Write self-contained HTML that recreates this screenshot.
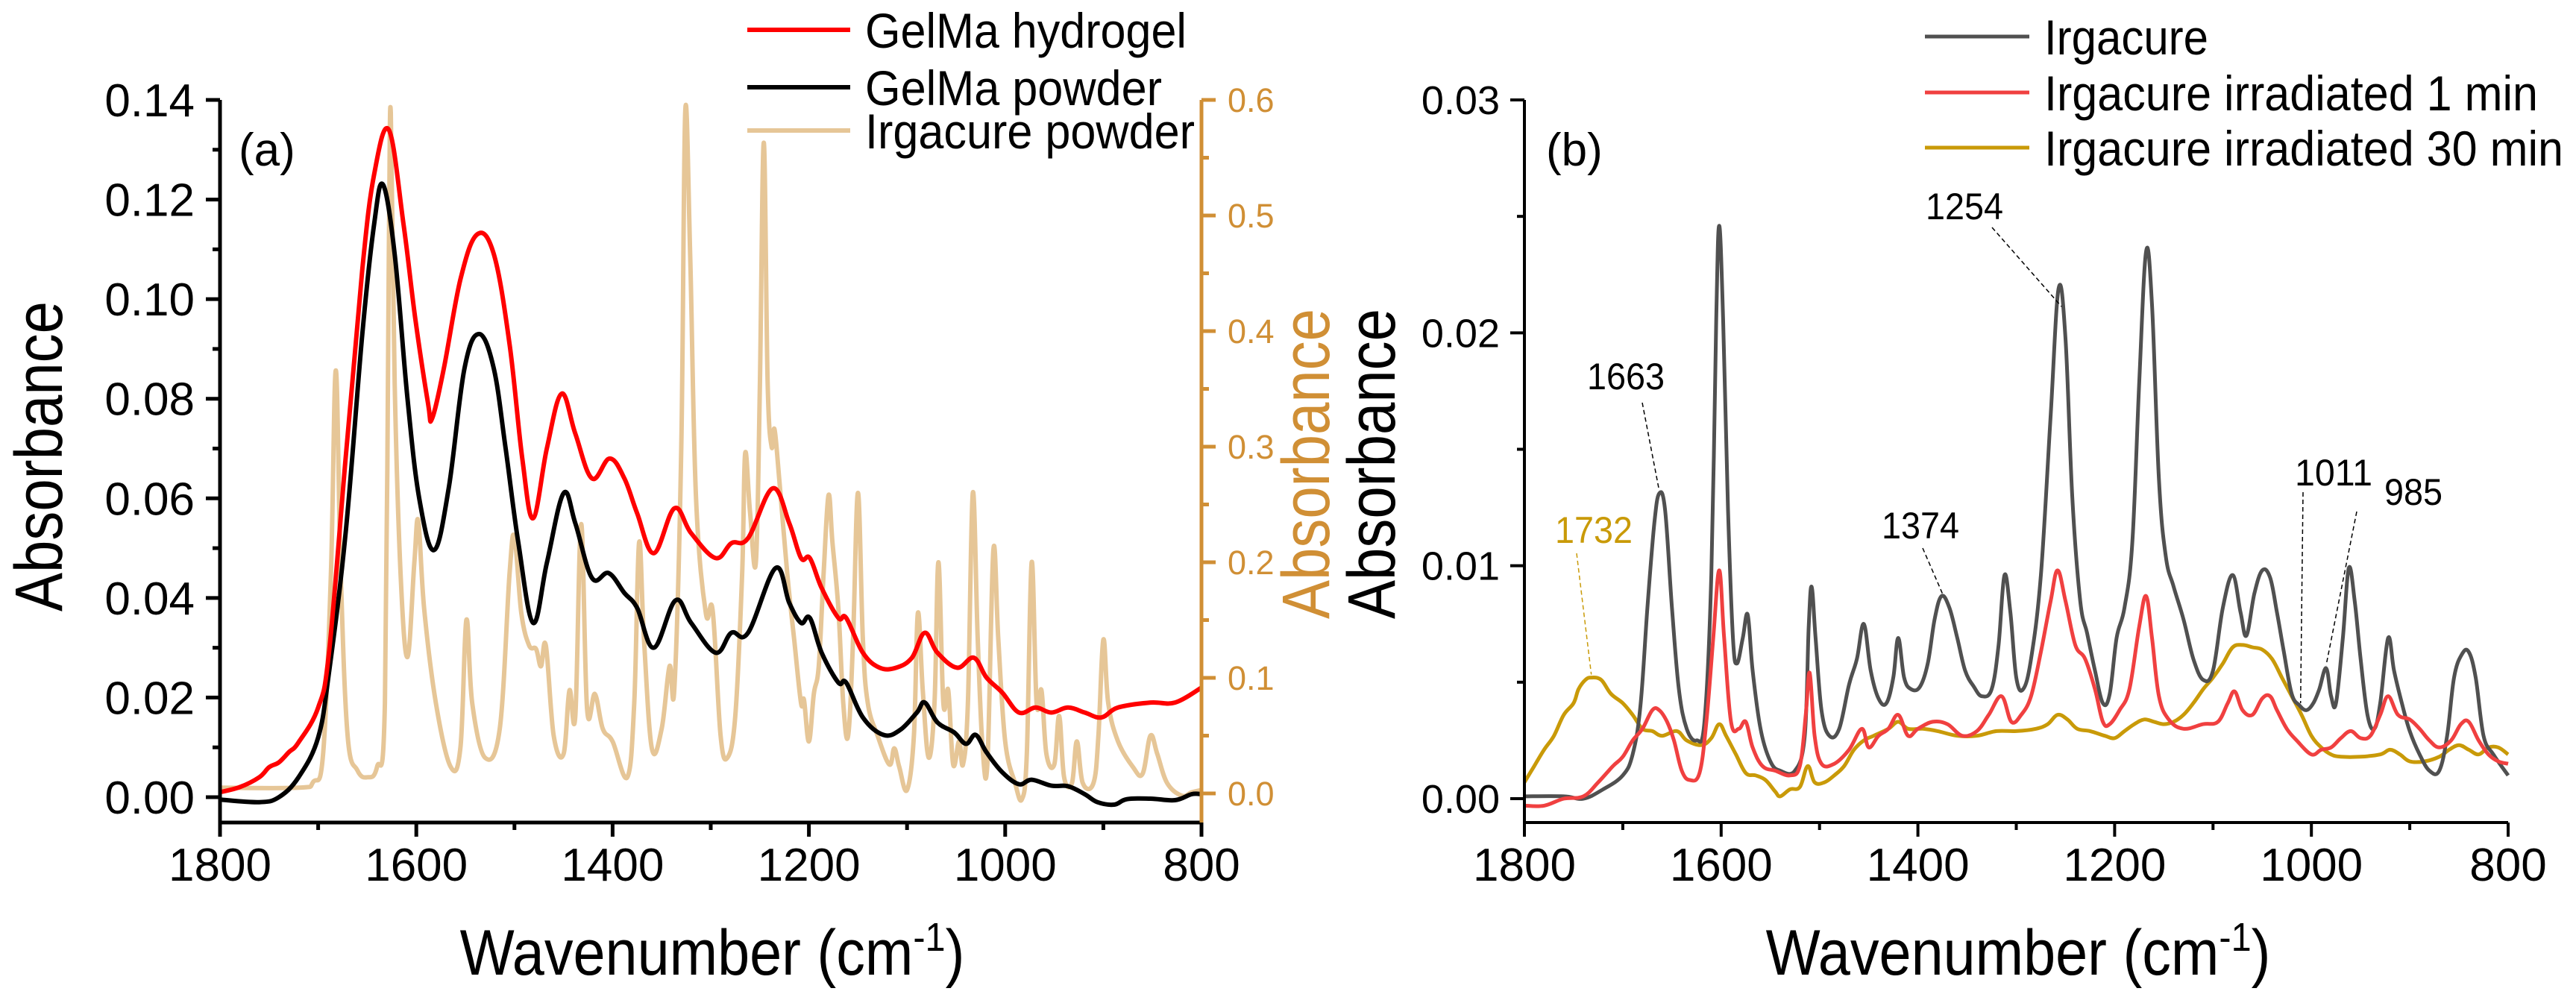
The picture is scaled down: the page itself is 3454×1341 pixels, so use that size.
<!DOCTYPE html>
<html><head><meta charset="utf-8"><style>
html,body{margin:0;padding:0;background:#fff}
svg{display:block}
text{font-family:"Liberation Sans",Arial,sans-serif}
</style></head><body>
<svg id="fig" width="3454" height="1341" viewBox="0 0 3454 1341" xmlns="http://www.w3.org/2000/svg">
<g id="ga"></g>
<g id="gb"></g>
</svg>
<script>
// ---- Panel (a) data ----
const hydWn=[1800,1780,1760,1750,1740,1730,1720,1700,1689,1672,1655,1643,1628,1613,1601,1588,1584,1572,1555,1538,1521,1505,1492,1481,1467,1452,1438,1421,1403,1388,1375,1358,1337,1320,1295,1279,1262,1237,1220,1208,1199,1187,1170,1162,1145,1128,1111,1095,1082,1069,1049,1032,1019,1003,986,969,953,936,919,902,885,852,827,800];
const hydVal=[0.001,0.002,0.004,0.006,0.007,0.009,0.011,0.018,0.029,0.068,0.106,0.125,0.134,0.115,0.096,0.079,0.076,0.086,0.104,0.113,0.109,0.091,0.068,0.056,0.070,0.081,0.073,0.064,0.068,0.064,0.057,0.049,0.058,0.053,0.048,0.051,0.052,0.062,0.055,0.048,0.048,0.042,0.036,0.036,0.029,0.026,0.026,0.028,0.033,0.029,0.026,0.028,0.024,0.021,0.017,0.018,0.017,0.018,0.017,0.016,0.018,0.019,0.019,0.022];
const powWn=[1800,1760,1740,1720,1700,1689,1672,1655,1643,1634,1622,1609,1597,1582,1567,1551,1536,1521,1509,1496,1481,1467,1450,1438,1421,1404,1388,1375,1358,1336,1320,1295,1279,1262,1234,1220,1208,1199,1187,1170,1162,1145,1124,1107,1090,1082,1069,1052,1040,1030,1019,1003,986,973,953,936,919,906,889,876,852,827,810,800];
const powVal=[-0.0005,-0.001,0,0.004,0.012,0.025,0.053,0.093,0.115,0.123,0.109,0.080,0.060,0.0496,0.062,0.086,0.093,0.086,0.070,0.051,0.035,0.047,0.061,0.055,0.044,0.045,0.041,0.038,0.030,0.0395,0.035,0.029,0.033,0.033,0.046,0.039,0.035,0.036,0.029,0.023,0.023,0.016,0.0125,0.0135,0.017,0.019,0.015,0.013,0.0107,0.0125,0.009,0.005,0.0026,0.0035,0.0023,0.0022,0.0006,-0.001,-0.0015,-0.0004,-0.0003,-0.0006,0.0006,0.0006];
const irgWn=[1800,1720,1705,1695,1687,1682,1677,1670,1660,1650,1640,1632,1628,1626,1622,1616,1609,1602,1598,1592,1580,1565,1555,1549,1543,1530,1515,1505,1500,1493,1485,1478,1473,1468,1460,1450,1444,1438,1432,1426,1418,1410,1400,1385,1378,1373,1368,1360,1350,1342,1337,1330,1326,1321,1315,1305,1298,1290,1283,1275,1268,1265,1260,1254,1250,1246,1242,1238,1235,1230,1222,1215,1208,1205,1200,1195,1190,1185,1180,1176,1170,1165,1160,1155,1150,1145,1140,1130,1118,1113,1108,1100,1093,1089,1084,1078,1072,1068,1063,1058,1053,1047,1043,1038,1033,1028,1023,1018,1012,1007,1000,990,983,978,973,968,963,958,950,945,940,932,927,921,910,905,900,895,885,870,860,852,845,835,820,810,800];
const irgVal=[0.005,0.005,0.01,0.034,0.19,0.366,0.19,0.05,0.02,0.014,0.023,0.078,0.47,0.589,0.355,0.19,0.118,0.2,0.236,0.16,0.078,0.023,0.04,0.15,0.078,0.031,0.056,0.19,0.222,0.156,0.128,0.125,0.11,0.128,0.05,0.034,0.089,0.067,0.233,0.073,0.086,0.056,0.045,0.014,0.078,0.217,0.133,0.039,0.056,0.11,0.092,0.3,0.59,0.466,0.255,0.156,0.158,0.05,0.031,0.067,0.19,0.294,0.244,0.2,0.35,0.563,0.355,0.3,0.315,0.27,0.19,0.133,0.078,0.081,0.045,0.086,0.11,0.19,0.258,0.217,0.16,0.078,0.05,0.133,0.26,0.133,0.078,0.05,0.025,0.039,0.023,0.003,0.05,0.156,0.089,0.031,0.078,0.2,0.078,0.089,0.025,0.045,0.025,0.078,0.26,0.133,0.039,0.028,0.211,0.133,0.045,0.009,-0.005,0.034,0.2,0.078,0.089,0.034,0.025,0.067,0.014,0.009,0.045,0.009,0.009,0.05,0.133,0.078,0.045,0.023,0.017,0.05,0.034,0.009,-0.002,0.001,0.003];
const aXTicks=[1800,1600,1400,1200,1000,800];
const aYTicks=[0,0.02,0.04,0.06,0.08,0.10,0.12,0.14];
const aYLabels=["0.00","0.02","0.04","0.06","0.08","0.10","0.12","0.14"];
const aRTicks=[0,0.1,0.2,0.3,0.4,0.5,0.6];
const aRLabels=["0.0","0.1","0.2","0.3","0.4","0.5","0.6"];
// ---- Panel (b) data ----
const grayWn=[1800,1760,1740,1720,1700,1690,1682,1675,1668,1663,1657,1650,1643,1635,1625,1617,1610,1605,1602,1598,1593,1588,1584,1578,1573,1568,1560,1550,1540,1525,1515,1511,1508,1504,1498,1490,1480,1470,1462,1455,1448,1440,1432,1425,1420,1414,1407,1398,1390,1383,1376,1368,1360,1352,1343,1335,1325,1318,1312,1306,1300,1293,1285,1275,1265,1257,1250,1243,1235,1228,1220,1212,1205,1198,1190,1182,1175,1168,1162,1155,1148,1140,1130,1120,1110,1100,1090,1080,1072,1066,1058,1050,1042,1035,1028,1020,1012,1005,998,992,985,980,975,968,962,956,950,943,936,930,922,916,908,900,890,880,870,862,855,847,840,833,825,815,800];
const grayVal=[0.0001,0.0001,0.0,0.0004,0.001,0.0019,0.004,0.0082,0.0118,0.0131,0.0124,0.0082,0.0047,0.003,0.0025,0.0033,0.0096,0.0206,0.0246,0.0206,0.0124,0.0069,0.0058,0.0069,0.0079,0.0055,0.003,0.0016,0.0012,0.0012,0.0027,0.0074,0.0091,0.0069,0.0038,0.0027,0.003,0.0049,0.006,0.0075,0.0055,0.0043,0.0041,0.0052,0.0069,0.0052,0.0047,0.0048,0.0058,0.0077,0.0087,0.0082,0.0069,0.0055,0.0048,0.0044,0.0047,0.0066,0.0096,0.008,0.0052,0.0047,0.006,0.0096,0.0165,0.0219,0.0198,0.0129,0.0085,0.0071,0.0055,0.0041,0.0045,0.0069,0.0082,0.011,0.0179,0.0235,0.0212,0.0137,0.0104,0.0091,0.0077,0.006,0.0051,0.0055,0.0082,0.0096,0.008,0.007,0.0088,0.0098,0.0095,0.008,0.0063,0.0045,0.004,0.0038,0.0041,0.0047,0.0056,0.0044,0.0041,0.0069,0.0099,0.0085,0.006,0.0036,0.003,0.0041,0.0069,0.0055,0.0041,0.0029,0.0019,0.0012,0.0012,0.0027,0.0052,0.0062,0.0063,0.0052,0.0027,0.0019,0.001];
const redWn=[1800,1780,1760,1740,1725,1710,1700,1690,1680,1670,1663,1655,1648,1640,1632,1622,1615,1608,1602,1597,1590,1582,1575,1568,1558,1545,1530,1520,1514,1510,1505,1498,1485,1470,1457,1450,1440,1430,1420,1410,1400,1385,1370,1355,1340,1328,1315,1305,1295,1285,1275,1265,1258,1250,1240,1230,1220,1212,1205,1195,1185,1175,1168,1162,1155,1145,1130,1110,1095,1085,1078,1070,1060,1050,1042,1035,1025,1015,1000,990,980,970,960,950,940,930,922,912,900,890,880,870,858,848,840,830,820,810,800];
const redVal=[-0.0003,-0.0003,0,0.0001,0.0007,0.0014,0.0018,0.0025,0.003,0.0038,0.0038,0.0033,0.0025,0.0012,0.0008,0.0011,0.0033,0.0069,0.0098,0.0069,0.0033,0.003,0.0033,0.0022,0.0014,0.0012,0.001,0.0014,0.0036,0.0054,0.0027,0.0015,0.0015,0.0021,0.003,0.0022,0.0027,0.003,0.0036,0.0027,0.003,0.0033,0.0032,0.0027,0.0029,0.0036,0.0044,0.0033,0.0036,0.0044,0.0063,0.0085,0.0098,0.0085,0.0066,0.006,0.0047,0.0033,0.0032,0.0038,0.0047,0.0074,0.0087,0.0069,0.0044,0.0034,0.003,0.0032,0.0033,0.0041,0.0046,0.0038,0.0036,0.0043,0.0044,0.0038,0.003,0.0025,0.0019,0.0021,0.0022,0.0026,0.0029,0.0026,0.0027,0.0036,0.0044,0.0036,0.0034,0.003,0.0025,0.0022,0.0025,0.0032,0.0033,0.0025,0.0019,0.0016,0.0015];
const goldWn=[1800,1790,1780,1770,1760,1750,1745,1738,1732,1722,1712,1700,1690,1680,1670,1660,1645,1635,1620,1610,1602,1595,1585,1575,1565,1555,1545,1540,1530,1520,1512,1505,1495,1485,1475,1465,1455,1445,1430,1420,1410,1395,1380,1360,1340,1320,1300,1280,1268,1258,1248,1238,1225,1210,1200,1190,1180,1170,1160,1150,1140,1130,1120,1110,1100,1090,1080,1070,1060,1050,1040,1030,1020,1010,1000,990,980,970,950,930,920,910,900,885,870,860,850,840,830,820,810,800];
const goldVal=[0.0007,0.0014,0.0021,0.0027,0.0036,0.0041,0.0047,0.0051,0.0052,0.0051,0.0045,0.0041,0.0036,0.003,0.0029,0.0027,0.0029,0.0025,0.0023,0.0026,0.0032,0.0027,0.0019,0.0011,0.001,0.0008,0.0003,0.0001,0.0004,0.0005,0.0014,0.0007,0.0007,0.001,0.0014,0.0021,0.0025,0.0027,0.003,0.0033,0.003,0.003,0.0029,0.0027,0.0027,0.0029,0.0029,0.003,0.0032,0.0036,0.0034,0.003,0.0029,0.0027,0.0026,0.0029,0.0032,0.0034,0.0033,0.0032,0.0033,0.0036,0.0041,0.0047,0.0052,0.0058,0.0065,0.0066,0.0065,0.0064,0.006,0.0052,0.0044,0.0036,0.0027,0.0022,0.0019,0.0018,0.0018,0.0019,0.0021,0.0019,0.0016,0.0016,0.0018,0.0021,0.0023,0.0021,0.0019,0.0022,0.0022,0.0019];
const bXTicks=[1800,1600,1400,1200,1000,800];
const bYTicks=[0,0.01,0.02,0.03];
const bYLabels=["0.00","0.01","0.02","0.03"];
const annWn=[1663,1254,1374,1011,985,1732];
const annLabels=["1663","1254","1374","1011","985","1732"];

const NS="http://www.w3.org/2000/svg";
function mk(parent,tag,attrs,txt){const e=document.createElementNS(NS,tag);for(const k in attrs)e.setAttribute(k,attrs[k]);if(txt!==undefined)e.textContent=txt;parent.appendChild(e);return e;}
function pathFrom(xs,ys){
  let d="M"+xs[0].toFixed(1)+","+ys[0].toFixed(1);
  for(let i=0;i<xs.length-1;i++){
    const x0=xs[Math.max(i-1,0)],y0=ys[Math.max(i-1,0)],x1=xs[i],y1=ys[i],x2=xs[i+1],y2=ys[i+1],x3=xs[Math.min(i+2,xs.length-1)],y3=ys[Math.min(i+2,xs.length-1)];
    const t=0.18;
    d+=" C"+(x1+(x2-x0)*t).toFixed(1)+","+(y1+(y2-y0)*t).toFixed(1)+" "+(x2-(x3-x1)*t).toFixed(1)+","+(y2-(y3-y1)*t).toFixed(1)+" "+x2.toFixed(1)+","+y2.toFixed(1);
  }
  return d;
}
const ga=document.getElementById('ga'), gb=document.getElementById('gb');
const axA=wn=>295+(1800-wn)*(1611-295)/1000;
const ayA=v=>1069-v*(1069-134)/0.14;
const ayR=v=>1064-v*(1064-134)/0.6;
const axB=wn=>2044+(1800-wn)*(3363-2044)/1000;
const ayB=v=>1071-v*(1071-134)/0.03;

function series(g,wn,val,fx,fy,color,w,name){
  const p=mk(g,'path',{d:pathFrom(wn.map(fx),val.map(fy)),fill:'none',stroke:color,'stroke-width':w,'stroke-linejoin':'round'});
  
  
}
series(ga,irgWn,irgVal,axA,ayR,'#e6c697',6,'irgacure-powder-line');
series(ga,powWn,powVal,axA,ayA,'#000',6,'gelma-powder-line');
series(ga,hydWn,hydVal,axA,ayA,'#ff0000',6,'gelma-hydrogel-line');
let e;
e=mk(ga,'path',{d:'M295,134 V1103 H1611',fill:'none',stroke:'#000','stroke-width':5});


e=mk(ga,'line',{x1:1611,y1:134,x2:1611,y2:1103,stroke:'#d08f35','stroke-width':5});


for(let w=1800;w>=800;w-=100){const x=axA(w);const major=(w%200===0);e=mk(ga,'line',{x1:x,y1:1103,x2:x,y2:1103+(major?19:10),stroke:'#000','stroke-width':5});

}
aXTicks.forEach(w=>{e=mk(ga,'text',{x:axA(w),y:1181,'font-size':62,'text-anchor':'middle'},String(w));

});
for(let k=0;k<=14;k++){const v=k*0.01;const y=ayA(v);e=mk(ga,'line',{x1:295,y1:y,x2:295-(k%2===0?19:10),y2:y,stroke:'#000','stroke-width':5});

}
aYTicks.forEach((v,i)=>{e=mk(ga,'text',{x:261,y:ayA(v)+22,'font-size':62,'text-anchor':'end'},aYLabels[i]);

});
for(let k=0;k<=12;k++){const v=k*0.05;const y=ayR(v);e=mk(ga,'line',{x1:1611,y1:y,x2:1611+(k%2===0?19:10),y2:y,stroke:'#d08f35','stroke-width':5});

}
aRTicks.forEach((v,i)=>{e=mk(ga,'text',{x:1646,y:ayR(v)+16,'font-size':45,fill:'#d08f35'},aRLabels[i]);

});
e=mk(ga,'text',{x:955,y:1307,'font-size':86,'text-anchor':'middle',transform:'translate(955,0) scale(0.9,1) translate(-955,0)'});


e.innerHTML='Wavenumber (cm<tspan dy="-32" font-size="54">-1</tspan><tspan dy="32">)</tspan>';
e=mk(ga,'text',{x:0,y:0,'font-size':90,'text-anchor':'middle',textLength:416,lengthAdjust:'spacingAndGlyphs',transform:'translate(83,612) rotate(-90)'},'Absorbance');


e=mk(ga,'text',{x:0,y:0,'font-size':90,'text-anchor':'middle',textLength:416,lengthAdjust:'spacingAndGlyphs',fill:'#d08f35',transform:'translate(1782,622) rotate(-90)'},'Absorbance');


e=mk(ga,'text',{x:320,y:222,'font-size':62},'(a)');


const legA=[['GelMa hydrogel','#ff0000',40,431],['GelMa powder','#000',117,398],['Irgacure powder','#e6c697',175,442]];
legA.forEach(l=>{e=mk(ga,'line',{x1:1002,y1:l[2],x2:1140,y2:l[2],stroke:l[1],'stroke-width':6});


e=mk(ga,'text',{x:1160,y:l[2]+24,'font-size':66,textLength:l[3],lengthAdjust:'spacingAndGlyphs'},l[0]);

});

series(gb,goldWn,goldVal,axB,ayB,'#c99a08',5,'irradiated-30min-line');
series(gb,grayWn,grayVal,axB,ayB,'#505050',5,'irgacure-line');
series(gb,redWn,redVal,axB,ayB,'#f04040',5,'irradiated-1min-line');
e=mk(gb,'path',{d:'M2044,134 V1103 H3363',fill:'none',stroke:'#000','stroke-width':4});


for(let w=1800;w>=800;w-=100){const x=axB(w);const major=(w%200===0);e=mk(gb,'line',{x1:x,y1:1103,x2:x,y2:1103+(major?19:10),stroke:'#000','stroke-width':4});

}
bXTicks.forEach(w=>{e=mk(gb,'text',{x:axB(w),y:1181,'font-size':62,'text-anchor':'middle'},String(w));

});
for(let k=0;k<=6;k++){const v=k*0.005;const y=ayB(v);e=mk(gb,'line',{x1:2044,y1:y,x2:2044-(k%2===0?19:10),y2:y,stroke:'#000','stroke-width':4});

}
bYTicks.forEach((v,i)=>{e=mk(gb,'text',{x:2011,y:ayB(v)+19,'font-size':54,'text-anchor':'end'},bYLabels[i]);

});
e=mk(gb,'text',{x:2706,y:1307,'font-size':86,'text-anchor':'middle',transform:'translate(2706,0) scale(0.9,1) translate(-2706,0)'});


e.innerHTML='Wavenumber (cm<tspan dy="-32" font-size="54">-1</tspan><tspan dy="32">)</tspan>';
e=mk(gb,'text',{x:0,y:0,'font-size':90,'text-anchor':'middle',textLength:416,lengthAdjust:'spacingAndGlyphs',transform:'translate(1870,622) rotate(-90)'},'Absorbance');


e=mk(gb,'text',{x:2073,y:222,'font-size':62},'(b)');


const legB=[['Irgacure','#505050',49,220],['Irgacure irradiated 1 min','#f04040',124,662],['Irgacure irradiated 30 min','#c99a08',198,696]];
legB.forEach(l=>{e=mk(gb,'line',{x1:2581,y1:l[2],x2:2721,y2:l[2],stroke:l[1],'stroke-width':5});


e=mk(gb,'text',{x:2741,y:l[2]+24,'font-size':66,textLength:l[3],lengthAdjust:'spacingAndGlyphs'},l[0]);

});
const annText=[[2128,522],[2582,294],[2523,722],[3077,651],[3197,677],[2085,728]];
const annFrom=[[2202,540],[2671,305],[2578,735],[3088,660],[3160,686],[2114,742]];
const annSeries=[[grayWn,grayVal],[grayWn,grayVal],[grayWn,grayVal],[grayWn,grayVal],[grayWn,grayVal],[goldWn,goldVal]];
function interp(wn,val,w){for(let i=0;i<wn.length-1;i++){if(w<=wn[i]&&w>=wn[i+1]){const t=(wn[i]-w)/(wn[i]-wn[i+1]);return val[i]+(val[i+1]-val[i])*t;}}return val[val.length-1];}
annWn.forEach((w,i)=>{
  const col=i===5?'#c99a08':'#000';
  const v=interp(annSeries[i][0],annSeries[i][1],w);
  e=mk(gb,'line',{x1:annFrom[i][0],y1:annFrom[i][1],x2:axB(w),y2:ayB(v)-4,stroke:col,'stroke-width':1.5,'stroke-dasharray':'6,4'});
  
  
  e=mk(gb,'text',{x:annText[i][0],y:annText[i][1],'font-size':50,fill:col,textLength:(annLabels[i].length*26),lengthAdjust:'spacingAndGlyphs'},annLabels[i]);
  
  
});
</script>
</body></html>
